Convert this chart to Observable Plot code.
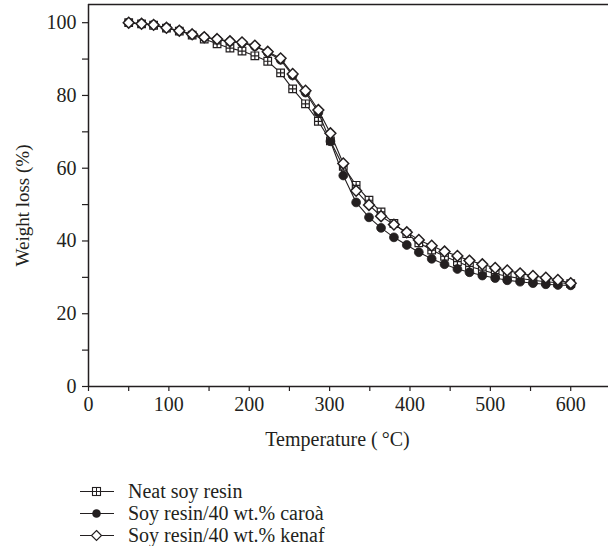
<!DOCTYPE html>
<html>
<head>
<meta charset="utf-8">
<script src="https://cdn.jsdelivr.net/npm/d3@7"></script>
<script src="https://cdn.jsdelivr.net/npm/@observablehq/plot@0.6"></script>
<style>
  body { margin: 0; background: white; font-family: "Liberation Serif", serif; color: #231f20; }
  #legend { margin-top: 20px; font-size: 20px; }
  .row { height: 22px; display: flex; align-items: center; padding-left: 80px; }
  .row svg { margin-right: 14px; }
</style>
</head>
<body>
<div id="chart"></div>
<div id="legend"></div>
<script>
const temps = [50, 66, 81, 97, 113, 129, 144, 160, 176, 191, 207, 223, 239, 254, 270, 286, 301, 317, 333, 349, 364, 380, 396, 411, 427, 443, 459, 474, 490, 506, 521, 537, 553, 569, 584, 600];
const neat  = [100, 99.7, 99.3, 98.5, 97.7, 96.6, 95.5, 94.2, 93.0, 92.2, 90.9, 89.4, 86.2, 81.8, 77.7, 72.9, 67.5, 60.5, 55.3, 51.2, 48.0, 44.8, 42.0, 39.5, 37.5, 35.8, 34.3, 33.0, 32.0, 31.0, 30.3, 29.7, 29.2, 28.8, 28.5, 28.3];
const caroa = [100, 99.7, 99.4, 98.6, 97.8, 96.7, 96.0, 95.4, 94.8, 94.4, 93.5, 91.8, 89.8, 85.5, 80.8, 75.3, 67.4, 58.0, 50.6, 46.5, 43.6, 41.0, 38.9, 36.9, 35.1, 33.6, 32.3, 31.4, 30.5, 29.8, 29.2, 28.8, 28.4, 28.1, 27.9, 27.8];
const kenaf = [100, 99.7, 99.4, 98.6, 97.8, 96.8, 96.0, 95.5, 94.9, 94.6, 93.7, 92.0, 90.2, 85.9, 81.3, 76.0, 69.6, 61.3, 53.8, 49.9, 46.8, 44.5, 42.4, 40.3, 38.7, 37.1, 35.9, 34.6, 33.6, 32.6, 31.9, 31.1, 30.4, 29.9, 29.3, 28.4];
const seriesNames = ["Neat soy resin", "Soy resin/40 wt.% caroà", "Soy resin/40 wt.% kenaf"];
const xTicks = [0, 50, 100, 150, 200, 250, 300, 350, 400, 450, 500, 550, 600];
const xTickLabels = ["0", "", "100", "", "200", "", "300", "", "400", "", "500", "", "600"];
const yTicks = [0, 10, 20, 30, 40, 50, 60, 70, 80, 90, 100];
const yTickLabels = ["0", "", "20", "", "40", "", "60", "", "80", "", "100"];
const xTitle = "Temperature (\u2009°C)";
const yTitle = "Weight loss (%)";

const ink = "#231f20";

// custom symbols
const squarePlus = {
  draw(ctx, size) {
    const r = Math.sqrt(size / Math.PI);
    ctx.moveTo(-r, -r); ctx.lineTo(r, -r); ctx.lineTo(r, r); ctx.lineTo(-r, r); ctx.closePath();
    ctx.moveTo(-r, 0); ctx.lineTo(r, 0);
    ctx.moveTo(0, -r); ctx.lineTo(0, r);
  }
};
const rhombus = {
  draw(ctx, size) {
    const r = Math.sqrt(size / Math.PI);
    ctx.moveTo(0, -r); ctx.lineTo(r, 0); ctx.lineTo(0, r); ctx.lineTo(-r, 0); ctx.closePath();
  }
};

const xLab = new Map(xTicks.map((t, i) => [t, xTickLabels[i]]));
const yLab = new Map(yTicks.map((t, i) => [t, yTickLabels[i]]));

const rows = (vals, s) => temps.map((t, i) => ({t, v: vals[i], s}));
const dNeat = rows(neat, seriesNames[0]);
const dCaroa = rows(caroa, seriesNames[1]);
const dKenaf = rows(kenaf, seriesNames[2]);

const chart = Plot.plot({
  width: 608,
  height: 460,
  marginLeft: 88,
  marginRight: 0,
  marginTop: 4,
  marginBottom: 74,
  x: {domain: [0, 647]},
  y: {domain: [0, 105]},
  style: {fontFamily: "Liberation Serif, serif", fontSize: "20px", color: ink, background: "white"},
  marks: [
    Plot.axisX({ticks: xTicks, tickFormat: d => xLab.get(d), tickSize: 5, tickPadding: 5, label: null, stroke: ink, strokeWidth: 1.2, fontSize: 20}),
    Plot.axisY({ticks: yTicks, tickFormat: d => yLab.get(d), tickSize: 6, tickPadding: 6, label: null, stroke: ink, strokeWidth: 1.2, fontSize: 20}),
    Plot.ruleY([0], {stroke: ink, strokeWidth: 1.5}),
    Plot.ruleY([105], {stroke: ink, strokeWidth: 1.5}),
    Plot.ruleX([0], {stroke: ink, strokeWidth: 1.5}),
    Plot.text([xTitle], {frameAnchor: "bottom", dy: 59, dx: -11, fontSize: 20, fill: ink}),
    Plot.text([yTitle], {frameAnchor: "left", textAnchor: "middle", rotate: -90, dx: -66, dy: 10, fontSize: 19, fill: ink}),
    Plot.line(dNeat, {x: "t", y: "v", stroke: ink, strokeWidth: 1.1}),
    Plot.dot(dNeat, {x: "t", y: "v", symbol: () => squarePlus, r: 3.8, fill: "white", stroke: ink, strokeWidth: 1.2}),
    Plot.line(dCaroa, {x: "t", y: "v", stroke: ink, strokeWidth: 1.1}),
    Plot.dot(dCaroa, {x: "t", y: "v", r: 4.4, fill: ink, stroke: ink, strokeWidth: 0.8}),
    Plot.line(dKenaf, {x: "t", y: "v", stroke: ink, strokeWidth: 1.1}),
    Plot.dot(dKenaf, {x: "t", y: "v", symbol: () => rhombus, r: 5.4, fill: "white", stroke: ink, strokeWidth: 1.5})
  ]
});
document.getElementById("chart").appendChild(chart);

// legend
const symHTML = [
  '<rect x="12.5" y="3.5" width="8" height="8" fill="white" stroke="' + ink + '" stroke-width="1.1"/><path d="M12.5 7.5H20.5M16.5 3.5V11.5" stroke="' + ink + '" stroke-width="1"/>',
  '<circle cx="16.5" cy="7.5" r="4.3" fill="' + ink + '"/>',
  '<path d="M16.5 2.5L21.5 7.5L16.5 12.5L11.5 7.5Z" fill="white" stroke="' + ink + '" stroke-width="1.2"/>'
];
const legend = document.getElementById("legend");
seriesNames.forEach((name, i) => {
  const row = document.createElement("div");
  row.className = "row";
  row.innerHTML = '<svg width="34" height="15" viewBox="0 0 34 15"><line x1="0" y1="7.5" x2="34" y2="7.5" stroke="' + ink + '" stroke-width="1.1"/>' + symHTML[i] + '</svg><span>' + name + '</span>';
  legend.appendChild(row);
});
</script>
</body>
</html>
